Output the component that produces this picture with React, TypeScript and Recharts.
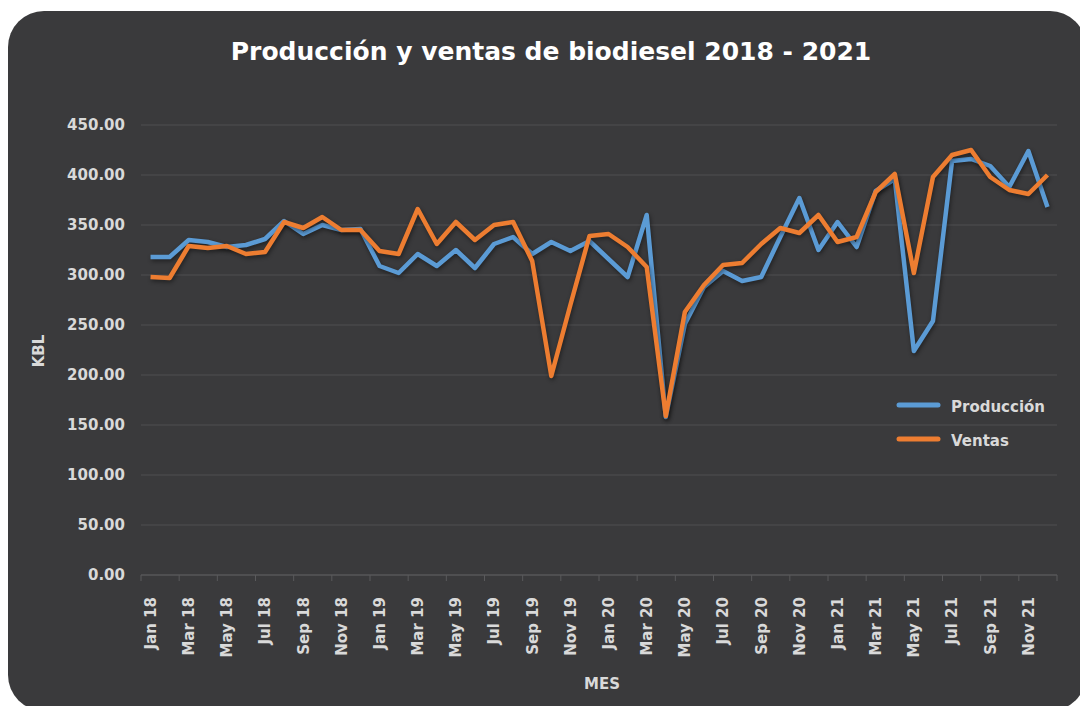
import React from "react";
import { LineChart, Line, XAxis, YAxis, CartesianGrid } from "recharts";

const meses = [
  "Jan 18", "Feb 18", "Mar 18", "Apr 18", "May 18", "Jun 18", "Jul 18", "Aug 18", "Sep 18", "Oct 18", "Nov 18", "Dec 18",
  "Jan 19", "Feb 19", "Mar 19", "Apr 19", "May 19", "Jun 19", "Jul 19", "Aug 19", "Sep 19", "Oct 19", "Nov 19", "Dec 19",
  "Jan 20", "Feb 20", "Mar 20", "Apr 20", "May 20", "Jun 20", "Jul 20", "Aug 20", "Sep 20", "Oct 20", "Nov 20", "Dec 20",
  "Jan 21", "Feb 21", "Mar 21", "Apr 21", "May 21", "Jun 21", "Jul 21", "Aug 21", "Sep 21", "Oct 21", "Nov 21", "Dec 21",
];

const produccion = [
  318, 318, 335, 333, 328, 330, 336, 354, 341, 350, 345, 346,
  309, 302, 321, 309, 325, 307, 331, 338, 321, 333, 324, 334,
  316, 298, 360, 158, 251, 288, 304, 294, 298, 338, 377, 325,
  353, 328, 384, 396, 224, 254, 414, 416, 409, 388, 424, 368,
];

const ventas = [
  298, 297, 329, 327, 329, 321, 323, 353, 347, 358, 345, 345,
  324, 321, 366, 331, 353, 335, 350, 353, 314, 199, 270, 339,
  341, 328, 308, 159, 263, 290, 310, 312, 331, 347, 342, 360,
  333, 338, 383, 401, 302, 398, 420, 425, 398, 385, 381, 400,
];

const yTicks = [0, 50, 100, 150, 200, 250, 300, 350, 400, 450];

const data = meses.map((m, i) => ({ mes: m, produccion: produccion[i], ventas: ventas[i] }));

const BLUE = "#5b9bd5";
const ORANGE = "#ed7d31";
const BG = "#3a3a3c";
const TXT = "#d9d9d9";
const FONT = "'DejaVu Sans', 'Open Sans', sans-serif";

const BAND = 916 / 48;

const XTick = (props: any) => {
  const { x, y, payload } = props;
  const isLast = payload.value === "Nov 21";
  const ty = y + 14;
  return (
    <g>
      <line x1={x - BAND / 2} x2={x - BAND / 2} y1={y - 8} y2={y - 2} stroke="#5a5a5c" strokeWidth={1} />
      {isLast && (
        <line x1={x + BAND * 1.5} x2={x + BAND * 1.5} y1={y - 8} y2={y - 2} stroke="#5a5a5c" strokeWidth={1} />
      )}
      <text
        x={x}
        y={ty}
        transform={`rotate(-90, ${x}, ${ty})`}
        textAnchor="end"
        dy="0.36em"
        fill={TXT}
        fontSize={15}
        fontWeight={700}
        fontFamily={FONT}
      >
        {payload.value}
      </text>
    </g>
  );
};

export default function App() {
  return (
    <div
      style={{
        position: "relative",
        width: 1078,
        height: 700,
        marginTop: 3,
        background: BG,
        borderRadius: 36,
        overflow: "hidden",
        fontFamily: FONT,
      }}
    >
      <div style={{ position: "absolute", left: 0, top: 0 }}>
        <LineChart
          width={1078}
          height={700}
          data={data}
          margin={{ top: 114, right: 29, bottom: 36, left: 0 }}
        >
          <CartesianGrid vertical={false} stroke="#4e4e50" strokeWidth={1} />
          <XAxis
            dataKey="mes"
            scale="band"
            interval={1}
            height={100}
            tickLine={false}
            axisLine={{ stroke: "#5a5a5c", strokeWidth: 1 }}
            tick={<XTick />}
          />
          <YAxis
            width={133}
            domain={[0, 450]}
            ticks={yTicks}
            axisLine={false}
            tickLine={false}
            tickMargin={10}
            tickFormatter={(v: number) => v.toFixed(2)}
            tick={{ fill: TXT, fontSize: 15, fontWeight: 700, fontFamily: FONT }}
          />
          <Line
            type="linear"
            dataKey="produccion"
            name="Producción"
            stroke={BLUE}
            strokeWidth={4.5}
            strokeLinejoin="round"
            dot={false}
            activeDot={false}
            isAnimationActive={false}
            style={{ filter: "drop-shadow(1px 2px 2px rgba(0,0,0,0.45))" }}
          />
          <Line
            type="linear"
            dataKey="ventas"
            name="Ventas"
            stroke={ORANGE}
            strokeWidth={4.5}
            strokeLinejoin="round"
            dot={false}
            activeDot={false}
            isAnimationActive={false}
            style={{ filter: "drop-shadow(1px 2px 2px rgba(0,0,0,0.45))" }}
          />
        </LineChart>
      </div>
      <svg
        width={1078}
        height={700}
        style={{ position: "absolute", left: 0, top: 0, pointerEvents: "none" }}
      >
        <text x={543} y={49} textAnchor="middle" fill="#ffffff" fontSize={25} fontWeight={700} fontFamily={FONT}>
          Producción y ventas de biodiesel 2018 - 2021
        </text>
        <text
          x={35.5}
          y={340}
          transform="rotate(-90, 35.5, 340)"
          textAnchor="middle"
          fill={TXT}
          fontSize={15}
          fontWeight={700}
          fontFamily={FONT}
        >
          KBL
        </text>
        <text x={594} y={678} textAnchor="middle" fill={TXT} fontSize={15} fontWeight={700} fontFamily={FONT}>
          MES
        </text>
        <line x1={891} x2={930} y1={394} y2={394} stroke={BLUE} strokeWidth={5} strokeLinecap="round" />
        <text x={943} y={400.5} fill={TXT} fontSize={15} fontWeight={700} fontFamily={FONT}>
          Producción
        </text>
        <line x1={891} x2={930} y1={428} y2={428} stroke={ORANGE} strokeWidth={5} strokeLinecap="round" />
        <text x={943} y={434.5} fill={TXT} fontSize={15} fontWeight={700} fontFamily={FONT}>
          Ventas
        </text>
      </svg>
    </div>
  );
}
